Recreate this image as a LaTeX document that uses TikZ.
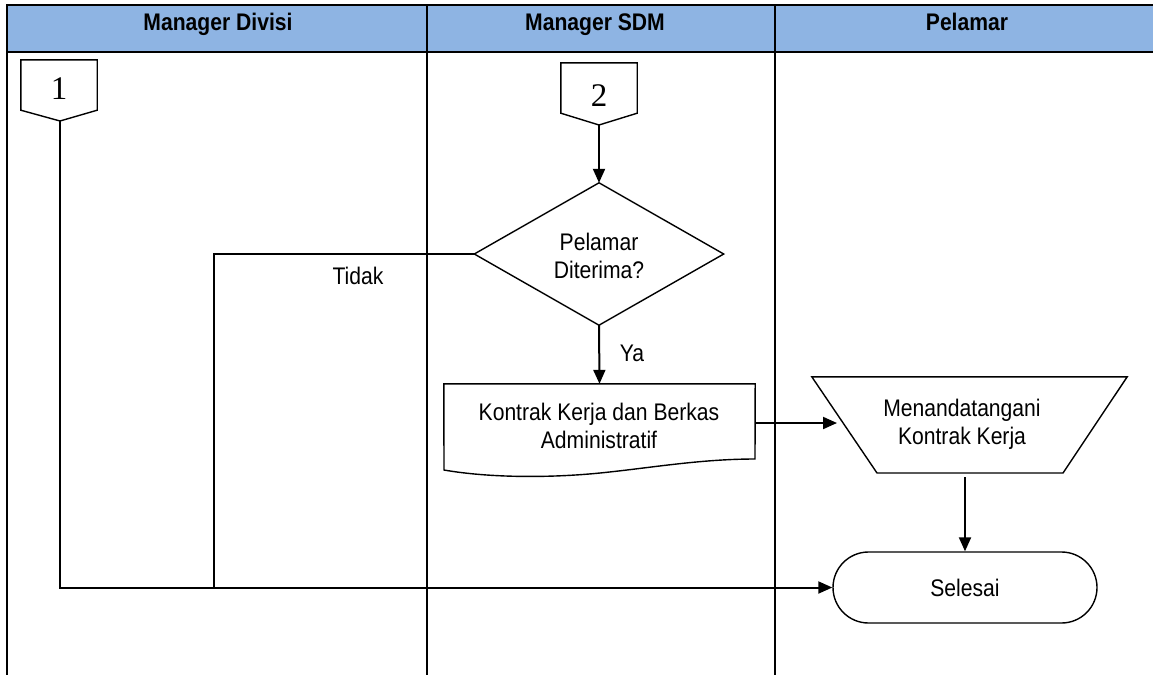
\documentclass[tikz,border=0pt]{standalone}
\usepackage{fontspec}
\setmainfont{Liberation Sans}[FakeStretch=0.88]
\newfontfamily\numfont{Liberation Serif}
\usetikzlibrary{arrows.meta,shapes.misc}
\definecolor{hdr}{RGB}{142,180,227}
\tikzset{
  grid/.style={line width=2.4pt,black},
  lane/.style={line width=1.4pt,black},
  flow/.style={line width=2pt,black},
  arr/.style={flow,-{Triangle[length=14pt,width=12pt]}},
  shp/.style={line width=1.4pt,black,fill=white},
  box/.style={inner sep=0pt,align=center,font=\fontsize{24}{28}\selectfont},
  hd/.style={inner sep=0pt,anchor=base,font=\fontsize{24}{28}\selectfont\bfseries},
  lbl/.style={inner sep=0pt,font=\fontsize{24}{28}\selectfont},
  num/.style={inner sep=0pt,font=\fontsize{33}{36}\selectfont\numfont},
}
\begin{document}
\begin{tikzpicture}[x=1pt,y=-1pt]
\useasboundingbox (0,0) rectangle (1153,675);
% table
\fill[hdr] (7,5) rectangle (1153,52);
\draw[lane] (427,5) -- (427,675);
\draw[lane] (775,5) -- (775,675);
\draw[grid] (7,5) -- (1153,5);
\draw[grid] (7,52) -- (1153,52);
\draw[grid] (7,4) -- (7,675);
\node[hd] (h1) at (218,30) {Manager Divisi};
\node[hd] (h2) at (595,30) {Manager SDM};
\node[hd] (h3) at (967,30) {Pelamar};
% off-page connector 1
\node[num,minimum width=76pt,minimum height=50pt] (c1) at (59,85) {};
\coordinate (c1tip) at (60,121);
\draw[shp] (c1.north west) -- (c1.north east) -- (c1.south east) -- (c1tip) -- (c1.south west) -- cycle;
\node[num] (n1) at (59,89) {1};
% off-page connector 2
\node[num,minimum width=76pt,minimum height=50pt] (c2) at (599,88) {};
\coordinate (c2tip) at (599,125);
\draw[shp] (c2.north west) -- (c2.north east) -- (c2.south east) -- (c2tip) -- (c2.south west) -- cycle;
\node[num] (n2) at (599,96) {2};
% decision
\node[box,minimum width=249pt,minimum height=142pt] (dec) at (599,254) {};
\draw[shp] (dec.north) -- (dec.east) -- (dec.south) -- (dec.west) -- cycle;
\node[box] (dect) at (599,256) {Pelamar\\Diterima?};
% document
\node[box,minimum width=311pt,minimum height=76pt] (doc) at (599.5,422) {};
\draw[shp] (doc.north west) -- (doc.north east) -- (755,459)
  .. controls (700,459) and (650,468) .. (600,473)
  .. controls (550,478) and (490,478) .. (444,470) -- cycle;
\node[box] (doct) at (599,426) {Kontrak Kerja dan Berkas\\Administratif};
% manual operation
\node[box,minimum width=315pt,minimum height=96pt] (man) at (969.5,425) {};
\coordinate (manbl) at (877,473);
\coordinate (manbr) at (1063,473);
\draw[shp] (man.north west) -- (man.north east) -- (manbr) -- (manbl) -- cycle;
\node[box] (mant) at (962,424) {Menandatangani\\Kontrak Kerja};
\coordinate (manl) at (837,423);
\coordinate (mans) at (965,477);
% terminator
\node[box,draw,line width=1.4pt,rounded rectangle,minimum width=264pt,minimum height=71pt] (end) at (965,587.5) {Selesai};
% connectors
\coordinate (j) at (214,587);
\draw[arr] (c2tip) -- (dec.north);
\draw[arr] (dec.south) -- (doc.north);
\draw[flow] (dec.west) -| (j);
\draw[arr] (c1tip) |- (end.west);
\draw[arr] (doc.east |- manl) -- (manl);
\draw[arr] (mans) -- (end.north);
% labels
\node[lbl] (ltidak) at (358,276) {Tidak};
\node[lbl] (lya) at (632,353) {Ya};
\end{tikzpicture}
\end{document}
